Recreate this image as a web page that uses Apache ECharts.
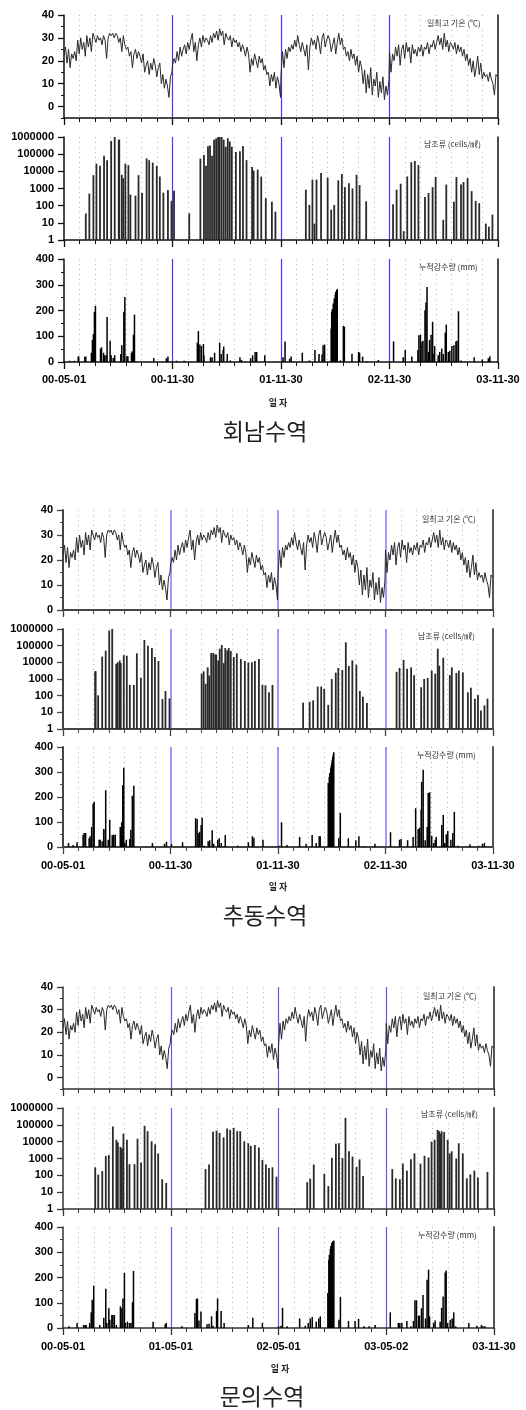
<!DOCTYPE html>
<html><head><meta charset="utf-8">
<script src="https://cdn.jsdelivr.net/npm/echarts/dist/echarts.min.js"></script>
<style>html,body{margin:0;padding:0;background:#fff}#c{width:526px;height:1410px}</style>
</head><body><div id="c"></div>
<script>
// ---------- axis / category data ----------
const DAYS_PER_SEASON = 214;            // 05-01 .. 11-30 of each year
const TOTAL_DAYS = 856;                 // 4 seasons joined end to end
const xTickLabelsA = ['00-05-01','00-11-30','01-11-30','02-11-30','03-11-30'];
const xTickLabelsB = ['00-05-01','01-05-01','02-05-01','03-05-02','03-11-30'];
const seriesNames = ['일최고 기온 (℃)', '남조류 (cells/㎖)', '누적강수량 (mm)'];
const siteNames = ['회남수역', '추동수역', '문의수역'];
const xAxisTitle = '일 자';

// ---------- daily max temperature (one reading every 3 days per season) ----------
const tempSeason1 = [22,26,19,25,17,23,21,24,20, 29,23,30,25,28,22,31,26,30,24,32, 32,28,31,29,30,27,31,29,21,30,32,
  31,32,30,32,31,28,30,24,31,27,25, 26,22,24,17,23,25,21,24,22,19,23, 15,18,20,14,19,16,21,18,13,17,19, 10,14,8,12,9,4,13,15];
const tempSeason2 = [18,21,19,24,20,26,22,25,27, 23,28,25,29,32,24,28,20,27,30,26, 31,28,30,29,27,31,28,32,30,33,29,
  34,31,33,27,32,30,29,31,26,30,28, 29,26,28,24,27,25,22,26,23,15,21, 18,23,20,17,22,19,21,16,18,14,15, 9,14,11,15,8,13,10,4];
const tempSeason3 = [14,24,17,25,21,26,24,27,25, 29,26,31,27,24,28,25,22,27,16,26, 30,27,29,25,31,28,23,30,32,26,29,
  31,29,24,27,30,23,28,32,27,30,25, 26,22,24,20,25,21,23,18,22,15,20, 17,10,16,6,14,8,17,5,12,9,15, 4,11,6,13,3,9,5,12];
const tempSeason4 = [24,15,23,20,26,22,27,18,25, 27,21,28,24,26,19,27,23,25,22,26, 24,27,22,26,25,28,23,27,26,29,25,
  28,31,27,30,25,32,26,29,24,28,27, 25,28,23,27,24,26,22,25,20,23,18, 21,15,20,13,17,22,14,19,12,15,13, 14,11,15,12,10,5,14,13];
const TEMP_STEP_DAYS = 3;

// ---------- 회남수역 ----------
const hoenamAlgaeDays = [43,50,58,64,71,79,85,93,100,108,109,114,117,121,127,131,141,147,154,163,168,175,183,189,196,205,212,217,
  247,269,276,280,284,288,292,296,300,304,307,311,315,319,323,327,331,339,347,353,360,371,374,382,389,398,410,417,
  477,484,490,494,498,507,520,527,533,541,548,554,562,569,577,583,596,
  649,656,664,670,677,685,692,699,712,719,727,733,748,754,769,774,783,788,796,804,812,819,832,838,845];
const hoenamAlgae = [35,500,6000,28000,21000,80000,44000,590000,1000000,700000,700000,6300,4000,28000,23000,440,380,6000,550,57000,44000,32000,21000,5000,570,820,190,740,
  36,55000,90000,21000,290000,320000,80000,700000,830000,1000000,1000000,1000000,700000,270000,850000,550000,270000,135000,150000,300000,45000,18000,11000,12500,4900,270,170,45,
  850,110,3300,9,3300,8000,4300,58,110,3000,7000,1200,2000,1000,6300,1600,180,
  120,850,1900,3.3,5000,34000,40000,23000,320,550,1200,4700,15,1700,170,4700,1700,2400,4000,700,190,140,9,6,30];
const hoenamRainDays = [11,20,28,29,41,43,54,56,58,60,62,72,74,78,80,83,85,91,93,97,100,112,114,118,120,124,126,133,135,137,139,177,202,205,
  222,237,263,265,268,271,275,276,289,292,297,307,310,314,315,322,328,347,350,368,372,377,380,396,
  432,436,445,448,470,484,495,503,509,511,514,527,528,529,531,533,535,536,538,539,545,551,553,568,581,583,589,597,620,
  650,669,673,686,698,700,703,706,708,712,714,716,719,721,724,727,728,731,738,741,745,748,752,754,758,761,765,769,773,775,778,783,809,825,837,840];
const hoenamRain = [5,5,20,22,20,21,36,86,109,195,218,52,57,36,26,26,175,83,26,16,26,31,65,195,252,22,22,36,42,106,184,15,15,21,
  5,5,75,120,68,62,70,26,18,18,36,75,31,47,60,31,6,18,8,15,26,39,39,26,
  18,80,13,21,36,6,47,31,29,65,68,130,195,205,227,247,262,273,280,283,6,140,137,32,39,36,21,3,8,
  80,18,47,21,47,104,106,78,83,201,231,291,39,86,106,156,32,62,26,39,52,31,114,145,39,44,62,65,80,83,197,6,18,10,15,22];

// ---------- 추동수역 ----------
const chudongAlgaeDays = [64,65,70,78,85,92,98,106,109,113,115,121,127,133,141,147,155,162,169,177,183,190,198,204,212,
  276,280,284,288,291,295,299,303,305,309,312,316,320,323,327,330,334,340,346,354,362,369,376,382,390,397,403,410,417,
  478,491,498,507,514,520,528,535,543,548,556,563,569,576,584,591,597,605,
  664,670,678,685,693,699,713,719,726,734,741,746,749,757,770,774,783,788,796,806,812,820,826,832,839,845];
const chudongAlgae = [2900,2900,105,22000,50000,800000,1000000,8300,10000,13000,9000,27000,25000,440,440,35000,1200,220000,100000,72000,21000,12000,63,190,69,
  2100,2900,520,5000,1600,36000,36000,30000,28000,13000,66000,110000,9000,72000,52000,72000,48000,21000,35000,16000,12000,9800,10000,12000,16000,440,420,160,440,
  38,43,52,350,350,260,28,1000,2400,4600,3500,160000,6000,13000,7200,190,87,36,
  2700,4600,14000,4100,5000,1700,320,1000,1150,3200,2100,66000,6300,19000,1700,5000,2300,3200,2500,160,300,66,110,13,26,66];
const chudongRainDays = [11,20,28,40,42,45,52,54,57,60,62,72,74,78,81,84,85,90,93,98,101,104,114,117,119,121,123,126,133,135,138,141,178,202,206,
  216,238,264,267,269,272,275,277,281,289,292,297,300,308,311,315,323,348,369,377,380,398,
  430,435,446,471,484,496,504,510,512,528,530,531,533,534,535,536,537,538,539,549,552,568,583,589,600,621,
  652,670,673,686,697,702,707,710,713,714,717,721,725,727,730,734,738,741,743,754,757,760,763,766,772,776,779,786,810,827,835,839];
const chudongRain = [16,8,19,48,56,56,35,43,80,173,181,29,29,23,72,69,227,29,109,48,49,49,80,99,248,317,16,29,32,69,205,245,16,13,21,
  11,19,115,112,56,61,88,117,5,23,27,67,13,29,35,16,48,5,19,43,37,29,
  5,99,8,40,13,48,16,43,43,256,280,296,315,325,335,349,360,370,379,35,136,35,27,43,3,13,
  59,29,32,27,40,155,72,77,149,261,309,27,80,216,219,45,16,29,40,88,128,16,51,64,29,56,141,5,11,5,13,16];

// ---------- 문의수역 ----------
const muneuiAlgaeDays = [64,70,78,85,91,99,106,109,114,117,120,127,132,142,148,155,162,168,176,183,189,197,205,
  283,290,298,305,311,319,326,332,339,346,352,360,368,373,381,389,396,403,409,416,424,
  485,491,498,519,527,534,542,548,555,561,568,575,583,589,596,
  654,661,669,675,683,691,698,710,718,726,732,738,744,747,749,752,757,764,768,772,781,786,794,802,809,817,824,843];
const muneuiAlgae = [300,110,180,1400,1600,80000,13000,9000,4900,4000,30000,13000,460,460,15000,580,88000,42000,10500,7000,2000,58,35,
  235,440,39000,45000,33000,18000,60000,50000,66000,42000,42000,10500,8000,5700,6300,4500,830,440,270,300,83,
  39,63,440,120,23,1100,7600,8000,1050,260000,2700,1300,320,880,90,
  235,66,58,500,190,900,2000,490,1450,1150,10000,13000,50000,42000,30000,42000,37000,13000,2000,2700,1000,8000,2000,66,115,190,75,160];
const muneuiRainDays = [12,28,41,44,46,53,56,58,61,73,81,85,87,91,93,97,99,102,106,114,117,119,122,124,128,132,135,138,140,179,203,205,
  236,262,265,267,270,274,286,290,295,298,305,307,314,320,368,377,396,
  428,433,436,445,470,481,487,491,495,503,508,511,526,528,529,531,532,534,535,536,538,548,551,567,580,587,598,608,620,
  650,666,669,673,683,691,696,699,702,706,708,712,715,720,723,726,728,736,739,749,752,755,759,761,764,769,773,776,780,806,822,831,834,838];
const muneuiRain = [7,20,12,12,12,20,62,112,168,12,41,155,20,78,33,51,51,51,12,86,78,117,218,20,25,20,20,102,226,25,15,20,
  7,59,115,117,30,65,15,17,46,9,67,117,67,20,12,41,20,
  7,9,80,7,38,9,20,38,44,25,38,46,139,270,290,313,325,337,340,345,347,33,123,28,28,36,7,7,12,
  62,20,20,20,28,7,28,110,110,49,49,78,131,38,191,231,46,20,30,25,80,125,220,228,20,33,38,62,7,20,9,12,7,7];

// ---------- build ----------
const tempSeasons = [tempSeason1, tempSeason2, tempSeason3, tempSeason4];
const tempData = [];
tempSeasons.forEach((arr, s) => arr.forEach((v, i) => tempData.push([s * DAYS_PER_SEASON + i * TEMP_STEP_DAYS, v])));
const pair = (days, vals) => days.map((d, i) => [d, vals[i]]);

const sites = [
  {algae: pair(hoenamAlgaeDays, hoenamAlgae), rain: pair(hoenamRainDays, hoenamRain), xLabels: xTickLabelsA, tempMin: -5},
  {algae: pair(chudongAlgaeDays, chudongAlgae), rain: pair(chudongRainDays, chudongRain), xLabels: xTickLabelsA, tempMin: 0},
  {algae: pair(muneuiAlgaeDays, muneuiAlgae), rain: pair(muneuiRainDays, muneuiRain), xLabels: xTickLabelsB, tempMin: -5}
];

// layout (pixels)
const layout = [
  {left:64, right:28, tops:[15,137,259], heights:[103,103,103], axisColor:'#111', axisWidth:1.5, rightColor:'#111', rightWidth:1.5,
   seasonColor:'#3c3cff', seasonWidth:1.2, xLabelMargin:12, xTitle:[278,403], title:[265,431], legends:[[427,24],[424,145],[419,268]]},
  {left:63, right:33, tops:[510,629,747], heights:[100,100,100], axisColor:'#444', axisWidth:2, rightColor:'#555', rightWidth:2,
   seasonColor:'#9c9cff', seasonWidth:2, xLabelMargin:13, xTitle:[278,887], title:[265,915], legends:[[422,520],[418,637],[417,756]]},
  {left:63, right:32, tops:[987,1108,1227], heights:[102,101,101], axisColor:'#333', axisWidth:1.5, rightColor:'#555', rightWidth:2,
   seasonColor:'#5a5aff', seasonWidth:1.2, xLabelMargin:13, xTitle:[280,1369], title:[262,1396], legends:[[423,997],[421,1115],[418,1236]]}
];

const labelFont = {fontSize:11, fontWeight:'bold', fontFamily:'Liberation Sans, Arial, sans-serif', color:'#000'};
const option = {animation:false, backgroundColor:'#fff', grid:[], xAxis:[], yAxis:[], series:[], title:[], graphic:[]};

sites.forEach((site, gi) => {
  const L = layout[gi];
  ['temp','algae','rain'].forEach((kind, pi) => {
    const gridIndex = option.grid.length;
    option.grid.push({left:L.left, right:L.right, top:L.tops[pi], height:L.heights[pi], containLabel:false, outerBoundsMode:'none'});
    const lineStyle = {color:L.axisColor, width:L.axisWidth};
    const xIndex = option.xAxis.length;
    option.xAxis.push({
      type:'value', gridIndex, min:0, max:TOTAL_DAYS, interval:DAYS_PER_SEASON,
      axisLine:{show:true, onZero:false, lineStyle},
      axisTick:{show:true, length:7, lineStyle:{color:L.axisColor, width:1.3}},
      minorTick:{show:true, splitNumber:7, length:4, lineStyle:{color:L.axisColor, width:1}},
      axisLabel:Object.assign({show:kind==='rain', margin:L.xLabelMargin, showMinLabel:true, showMaxLabel:true, hideOverlap:false,
        formatter:v => site.xLabels[Math.round(v / DAYS_PER_SEASON)] || ''}, labelFont),
      splitLine:{show:true, showMinLine:false, showMaxLine:false, lineStyle:{color:L.seasonColor, width:L.seasonWidth}},
      minorSplitLine:{show:true, lineStyle:{color:'#aeaef6', width:1, type:[1,4]}}
    });
    const yIndex = option.yAxis.length;
    const common = {gridIndex, position:'left', axisLine:{show:true, onZero:false, lineStyle}, splitLine:{show:false}, z:3};
    if (kind === 'temp') {
      option.yAxis.push(Object.assign({}, common, {type:'value', min:site.tempMin, max:40, interval:5,
        axisTick:{show:true, length:6, customValues:[0,10,20,30,40], lineStyle:{color:L.axisColor, width:1.3}},
        axisLabel:Object.assign({margin:10, customValues:[0,10,20,30,40]}, labelFont)}));
      option.yAxis.push({type:'value', gridIndex, position:'left', min:site.tempMin, max:40, interval:5,
        axisLine:{show:false}, axisTick:{show:true, length:3, lineStyle:{color:L.axisColor, width:1}},
        axisLabel:{show:false}, splitLine:{show:false}});
    } else if (kind === 'algae') {
      option.yAxis.push(Object.assign({}, common, {type:'log', logBase:10, min:1, max:1000000, splitNumber:6,
        axisTick:{show:true, length:6, lineStyle:{color:L.axisColor, width:1.3}},
        axisLabel:Object.assign({margin:10, formatter:v => String(Math.round(v))}, labelFont)}));
    } else {
      option.yAxis.push(Object.assign({}, common, {type:'value', min:0, max:400, interval:100,
        axisTick:{show:true, length:6, lineStyle:{color:L.axisColor, width:1.3}},
        minorTick:{show:true, splitNumber:2, length:3, lineStyle:{color:L.axisColor, width:1}},
        axisLabel:Object.assign({margin:10}, labelFont)}));
    }
    // right border
    option.yAxis.push({type:'value', gridIndex, position:'right', min:0, max:1,
      axisLine:{show:true, onZero:false, lineStyle:{color:L.rightColor, width:L.rightWidth}},
      axisTick:{show:false}, axisLabel:{show:false}, splitLine:{show:false}});

    if (kind === 'temp') {
      option.series.push({type:'line', xAxisIndex:xIndex, yAxisIndex:yIndex, data:tempData, showSymbol:false,
        lineStyle:{color:'#2a2a2a', width:1}, z:4});
    } else if (kind === 'algae') {
      option.series.push({type:'bar', xAxisIndex:xIndex, yAxisIndex:yIndex, data:site.algae, barWidth:1.8,
        itemStyle:{color:'#2a2a2a'}, z:4});
    } else {
      option.series.push({type:'bar', xAxisIndex:xIndex, yAxisIndex:yIndex, data:site.rain, barWidth:1.5,
        itemStyle:{color:'#000'}, z:4});
    }
    const lg = L.legends[pi];
    option.title.push({text:seriesNames[pi], left:lg[0] - 3, top:lg[1] - 7, padding:[2,3], backgroundColor:'#fff',
      textStyle:{fontSize:8, fontWeight:'normal', color:'#333', fontFamily:'Noto Sans CJK KR'}, z:8});
  });
  option.graphic.push({type:'text', x:L.xTitle[0], y:L.xTitle[1], z:10,
    style:{text:xAxisTitle, fontSize:9, fontWeight:'bold', fontFamily:'Noto Sans CJK KR', fill:'#222',
      textAlign:'center', textVerticalAlign:'middle', align:'center', verticalAlign:'middle'}});
  option.graphic.push({type:'text', x:L.title[0], y:L.title[1], z:10,
    style:{text:siteNames[gi], fontSize:23, fontFamily:'Noto Sans CJK KR', fill:'#222',
      textAlign:'center', textVerticalAlign:'middle', align:'center', verticalAlign:'middle'}});
});

const chart = echarts.init(document.getElementById('c'), null, {renderer:'canvas'});
chart.setOption(option);
</script></body></html>
